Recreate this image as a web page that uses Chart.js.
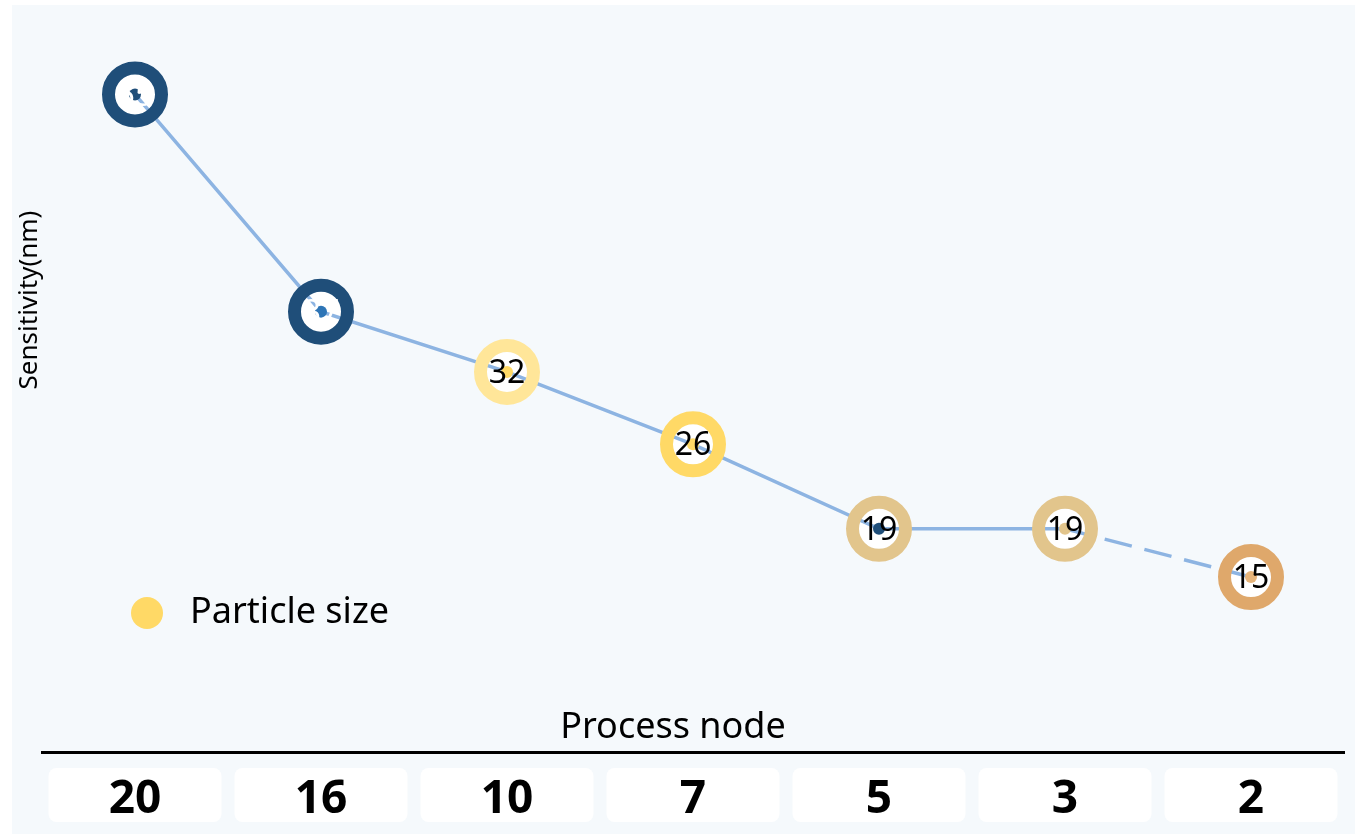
<!DOCTYPE html>
<html>
<head>
<meta charset="utf-8">
<script src="https://cdn.jsdelivr.net/npm/chart.js@4.4.1/dist/chart.umd.min.js"></script>
<style>
  html, body { margin: 0; padding: 0; background: #ffffff; overflow: hidden; }
  #wrap { width: 1355px; height: 834px; }
  canvas { display: block; }
</style>
</head>
<body>
<div id="wrap"><canvas id="nodeChart" width="1355" height="834"></canvas></div>
<script>
// Datos del gráfico
const processNodes = ['20', '16', '10', '7', '5', '3', '2'];
const sensitivity = [55, 37, 32, 26, 19, 19, 15];
const ringColors = ['#1f4e79', '#1f4e79', '#ffe699', '#ffd966', '#e2c58c', '#e2c58c', '#dfa86b'];
const dotColors = ['#1f4e79', '#2e75b6', '#ffd966', '#ffd966', '#1f4e79', '#e2c58c', '#e6b47a'];
const labelColors = ['#ffffff', '#ffffff', '#000000', '#000000', '#000000', '#000000', '#000000'];
const legendLabel = 'Particle size';
const legendColor = '#ffd966';

const FONT = "'Noto Sans', 'Open Sans', sans-serif";

// Fondo, cajas de los ticks y títulos
const decorPlugin = {
    id: 'decor',
    beforeDraw(chart) {
        const ctx = chart.ctx;
        const area = chart.chartArea;
        const xScale = chart.scales.x;
        ctx.save();
        ctx.fillStyle = '#f5f9fc';
        ctx.fillRect(12, 5, chart.width - 12, chart.height - 5);

        // cajas blancas detrás de cada etiqueta del eje x
        const step = xScale.getPixelForTick(1) - xScale.getPixelForTick(0);
        const boxW = step * 0.93;
        ctx.fillStyle = '#ffffff';
        processNodes.forEach((n, i) => {
            const cx = xScale.getPixelForTick(i);
            ctx.beginPath();
            ctx.roundRect(cx - boxW / 2, area.bottom + 16, boxW, 54, 8);
            ctx.fill();
        });

        // título del eje x (encima de la línea)
        ctx.fillStyle = '#000000';
        ctx.font = '36px ' + FONT;
        ctx.textAlign = 'center';
        ctx.textBaseline = 'middle';
        ctx.fillText('Process node', area.left + 631, area.bottom - 24);

        // título del eje y
        ctx.translate(30, 300);
        ctx.rotate(-Math.PI / 2);
        ctx.font = '26px ' + FONT;
        ctx.fillText('Sensitivity(nm)', 0, 0);
        ctx.restore();
    },
    afterDatasetsDraw(chart) {
        const ctx = chart.ctx;
        const area = chart.chartArea;
        const meta = chart.getDatasetMeta(1);
        ctx.save();
        ctx.textAlign = 'center';
        ctx.textBaseline = 'middle';
        ctx.font = '32px ' + FONT;
        meta.data.forEach((pt, i) => {
            ctx.fillStyle = labelColors[i];
            ctx.fillText(String(sensitivity[i]), pt.x, pt.y + 2);
        });

        // leyenda
        ctx.fillStyle = legendColor;
        ctx.beginPath();
        ctx.arc(area.left + 105, 613, 16, 0, Math.PI * 2);
        ctx.fill();
        ctx.fillStyle = '#000000';
        ctx.font = '36px ' + FONT;
        ctx.textAlign = 'left';
        ctx.fillText(legendLabel, area.left + 148, 613);
        ctx.restore();
    }
};

const ctxNode = document.getElementById('nodeChart').getContext('2d');
new Chart(ctxNode, {
    type: 'line',
    data: {
        labels: processNodes,
        datasets: [{
            // relleno blanco de los marcadores
            data: sensitivity,
            showLine: false,
            pointRadius: 20,
            pointBorderWidth: 0,
            pointBackgroundColor: '#ffffff',
            order: 4
        }, {
            // línea de sensibilidad
            label: 'Sensitivity',
            data: sensitivity,
            borderColor: '#8db4e2',
            borderWidth: 3.5,
            pointRadius: 0,
            fill: false,
            segment: {
                borderDash: c => c.p0DataIndex === 5 ? [28, 13] : undefined
            },
            order: 3
        }, {
            // anillos de color
            data: sensitivity,
            showLine: false,
            pointRadius: 26.5,
            pointBorderWidth: 13,
            pointBackgroundColor: 'rgba(0,0,0,0)',
            pointBorderColor: ringColors,
            order: 2
        }, {
            // punto interior
            label: legendLabel,
            data: sensitivity,
            showLine: false,
            pointRadius: 6,
            pointBorderWidth: 0,
            pointBackgroundColor: dotColors,
            order: 1
        }]
    },
    options: {
        responsive: false,
        animation: false,
        layout: {
            autoPadding: false,
            padding: { left: 42, right: 11, top: 10, bottom: 7 }
        },
        scales: {
            x: {
                offset: true,
                grid: { display: false, drawTicks: false },
                border: { display: true, color: '#000000', width: 3 },
                ticks: {
                    color: '#000000',
                    padding: 20,
                    font: { family: FONT, size: 46, weight: 'bold' }
                },
                afterFit: scale => { scale.height = 75; }
            },
            y: {
                display: false,
                min: 0.5,
                max: 62
            }
        },
        plugins: {
            legend: { display: false },
            tooltip: { enabled: false }
        }
    },
    plugins: [decorPlugin]
});
</script>
</body>
</html>
